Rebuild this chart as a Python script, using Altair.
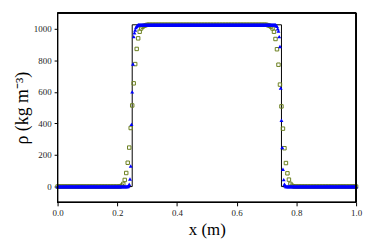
import altair as alt
import pandas as pd

RHO_HIGH = 1025
RHO_LOW = 0

# green squares: 201 nodes, x = i/200
G_N = 200
green_left_start = 42
green_left = [2, 6, 17, 42, 86, 151, 247, 371, 514, 654, 776, 872, 939, 981, 1002, 1013, 1019, 1022]
green_right_start = 141
green_right = [1022, 1019, 1013, 1002, 981, 935, 870, 772, 646, 508, 367, 243, 149, 84, 44, 17, 6, 2]

# blue triangles: 401 nodes, x = i/400
B_N = 400
blue_left_start = 95
blue_left = [3, 15, 48, 130, 394, 600, 776, 950, 975, 992, 1008, 1015, 1020]
blue_right_start = 293
blue_right = [1020, 1015, 1000, 985, 950, 887, 625, 420, 247, 110, 44, 15, 5]

exact_x = [0.0, 0.25, 0.25, 0.75, 0.75, 1.0]
exact_rho = [0, 0, RHO_HIGH, RHO_HIGH, 0, 0]

x_ticks = [0, 0.2, 0.4, 0.6, 0.8, 1.0]
y_ticks = [0, 200, 400, 600, 800, 1000]


def build(n, ls, lv, rs, rv):
    xs, ys = [], []
    le = ls + len(lv)
    re = rs + len(rv)
    for i in range(n + 1):
        if ls <= i < le:
            v = lv[i - ls]
        elif rs <= i < re:
            v = rv[i - rs]
        elif le <= i < rs:
            v = RHO_HIGH
        else:
            v = RHO_LOW
        xs.append(i / n)
        ys.append(v)
    return pd.DataFrame({"x": xs, "rho": ys})


gdf = build(G_N, green_left_start, green_left, green_right_start, green_right)
bdf = build(B_N, blue_left_start, blue_left, blue_right_start, blue_right)
edf = pd.DataFrame({"x": exact_x, "rho": exact_rho, "o": list(range(len(exact_x)))})

FONT = "Liberation Serif"

xscale = alt.Scale(domain=[0, 1], nice=False, zero=False)
yscale = alt.Scale(domain=[-100, 1100], nice=False, zero=False)

xaxis = alt.Axis(
    values=x_ticks, format=".1f", title="x (m)",
    titleFontSize=17, titlePadding=4,
)
yaxis = alt.Axis(
    values=y_ticks, format="d", title="ρ (kg m⁻³)",
    titleFontSize=18, titlePadding=2,
)

X = alt.X("x:Q", scale=xscale, axis=xaxis)
Y = alt.Y("rho:Q", scale=yscale, axis=yaxis)

exact = alt.Chart(edf).mark_line(color="black", strokeWidth=1).encode(
    x=X, y=Y, order="o:Q",
)

green = alt.Chart(gdf).mark_point(
    shape="square", size=12, filled=False, color="#6b7f1f", strokeWidth=1, opacity=1
).encode(x=X, y=Y)

blue = alt.Chart(bdf).mark_point(
    shape="triangle-up", size=16, filled=True, color="#0000ff", opacity=1
).encode(x=X, y=Y)

frame = alt.Chart(edf).mark_rect(fill=None, stroke="black", strokeWidth=1).encode(
    x=alt.value(0), x2=alt.value(301), y=alt.value(0), y2=alt.value(191)
)

chart = alt.layer(exact, green, blue, frame).properties(
    width=301, height=191,
    autosize=alt.AutoSizeParams(type="none"),
    padding={"left": 50, "top": 4, "right": 10, "bottom": 40},
).configure(
    background="white",
).configure_view(
    stroke=None,
).configure_axis(
    grid=False, domain=False, tickSize=3.5, tickColor="black",
    labelFontSize=9, labelFont=FONT, labelColor="#222",
    titleFont=FONT, titleFontWeight="normal", titleColor="black",
    labelPadding=3, labelFlush=False, labelOverlap=False, labelBound=False,
)

chart.save("out.html", embed_options={"renderer": "svg", "actions": False})
